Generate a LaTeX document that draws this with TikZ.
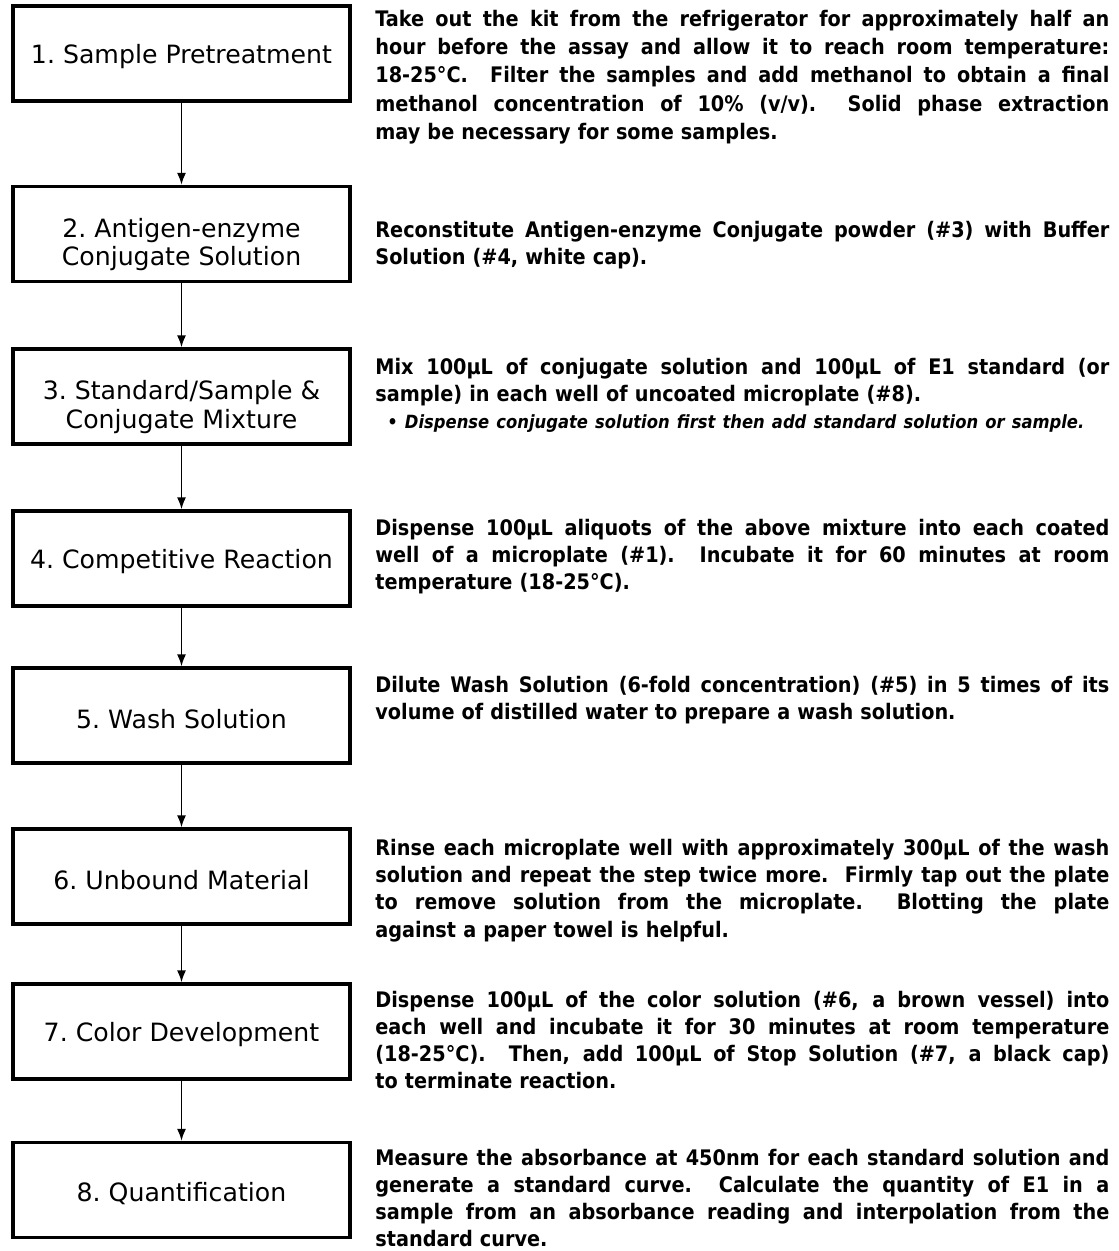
\documentclass[tikz,border=0pt]{standalone}
\usepackage{fontspec}
\setmainfont{DejaVu Sans}
\newfontfamily\descfont{DejaVu Sans Condensed}
\usepackage{tikz}
\usetikzlibrary{arrows.meta}
\newlength{\desclen}
\setlength{\desclen}{367pt}
\newcommand{\jline}[1]{\makebox[\desclen][s]{\spaceskip=0pt\xspaceskip=0pt #1}\\}

\begin{document}
\begin{tikzpicture}[x=0.5pt, y=-0.5pt,
  stepbox/.style={draw, line width=1.6pt, minimum width=168.5pt, minimum height=47.5pt,
    align=center, inner sep=0pt, font=\frenchspacing\fontsize{12.6}{14.2}\selectfont},
  desc/.style={anchor=west, align=left, inner sep=0pt, text width=\desclen,
    font=\descfont\bfseries\fontsize{10.7}{13.6}\selectfont}]
\useasboundingbox (0,0) rectangle (1118,1251);

% steps
\path (181.5,53.5) node (s1) [stepbox] {\rule{0pt}{13pt}1. Sample Pretreatment};
\path (181.5,234) node (s2) [stepbox] {\rule{0pt}{20pt}2. Antigen-enzyme\\Conjugate Solution};
\path (181.5,396.5) node (s3) [stepbox] {\rule{0pt}{20pt}3. Standard/Sample \&\\Conjugate Mixture};
\path (181.5,558.5) node (s4) [stepbox] {\rule{0pt}{13pt}4. Competitive Reaction};
\path (181.5,715.5) node (s5) [stepbox] {\rule{0pt}{13pt}5. Wash Solution};
\path (181.5,876.5) node (s6) [stepbox] {\rule{0pt}{13pt}6. Unbound Material};
\path (181.5,1031.5) node (s7) [stepbox] {\rule{0pt}{13pt}7. Color Development};
\path (181.5,1190) node (s8) [stepbox] {\rule{0pt}{13pt}8. Quantification};

% arrows
\foreach \a/\b in {s1/s2, s2/s3, s3/s4, s4/s5, s5/s6, s6/s7, s7/s8}
  \draw[line width=0.9pt, -{Latex[length=6pt,width=4.5pt]}] (\a) -- (\b);

% descriptions
\path (375,77) node (d1) [desc, font=\descfont\bfseries\fontsize{10.7}{14.2}\selectfont] {%
  \jline{Take out the kit from the refrigerator for approximately half an}
  \jline{hour before the assay and allow it to reach room temperature:}
  \jline{18-25°C.\ \ Filter the samples and add methanol to obtain a final}
  \jline{methanol concentration of 10\% (v/v).\ \ Solid phase extraction}
  may be necessary for some samples.};
\path (375,245) node (d2) [desc] {%
  \jline{Reconstitute Antigen-enzyme Conjugate powder (\#3) with Buffer}
  Solution (\#4, white cap).};
\path (375,395.5) node (d3) [desc] {%
  \jline{Mix 100µL of conjugate solution and 100µL of E1 standard (or}
  sample) in each well of uncoated microplate (\#8).\\
  {\hspace*{6pt}\fontsize{9.1}{13.6}\selectfont\itshape • Dispense conjugate solution first then add standard solution or sample.}};
\path (375,556.5) node (d4) [desc] {%
  \jline{Dispense 100µL aliquots of the above mixture into each coated}
  \jline{well of a microplate (\#1).\ \ Incubate it for 60 minutes at room}
  temperature (18-25°C).};
\path (375,700) node (d5) [desc] {%
  \jline{Dilute Wash Solution (6-fold concentration) (\#5) in 5 times of its}
  volume of distilled water to prepare a wash solution.};
\path (375,890.5) node (d6) [desc] {%
  \jline{Rinse each microplate well with approximately 300µL of the wash}
  \jline{solution and repeat the step twice more.\ \ Firmly tap out the plate}
  \jline{to remove solution from the microplate.\ \ Blotting the plate}
  against a paper towel is helpful.};
\path (375,1040) node (d7) [desc] {%
  \jline{Dispense 100µL of the color solution (\#6, a brown vessel) into}
  \jline{each well and incubate it for 30 minutes at room temperature}
  \jline{(18-25°C).\ \ Then, add 100µL of Stop Solution (\#7, a black cap)}
  to terminate reaction.};
\path (375,1198) node (d8) [desc] {%
  \jline{Measure the absorbance at 450nm for each standard solution and}
  \jline{generate a standard curve.\ \ Calculate the quantity of E1 in a}
  \jline{sample from an absorbance reading and interpolation from the}
  standard curve.};
\end{tikzpicture}
\end{document}
